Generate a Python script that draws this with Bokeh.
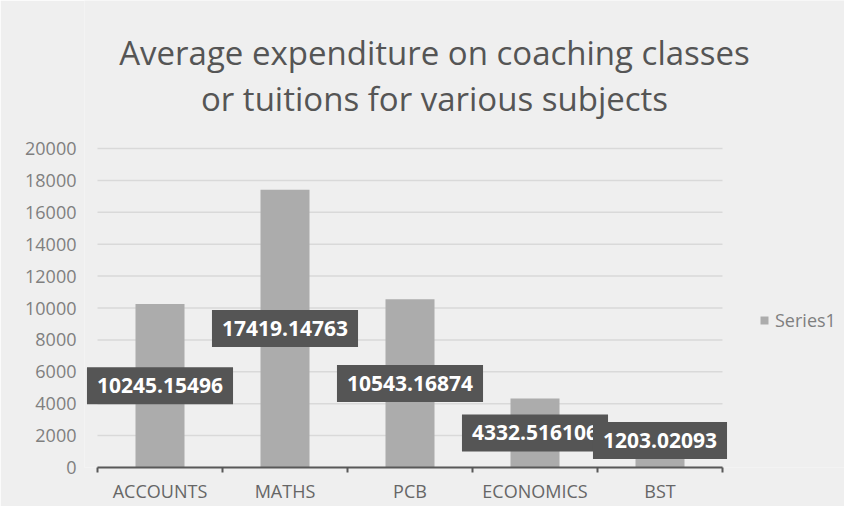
from bokeh.plotting import figure
from bokeh.models import (ColumnDataSource, FixedTicker, Label, Legend, LegendItem, Range1d)
from bokeh.core.properties import value
from bokeh.embed import file_html
from bokeh.resources import INLINE

categories = ["ACCOUNTS", "MATHS", "PCB", "ECONOMICS", "BST"]
values = [10245.15496, 17419.14763, 10543.16874, 4332.516106, 1203.02093]
y_ticks = [0, 2000, 4000, 6000, 8000, 10000, 12000, 14000, 16000, 18000, 20000]
series_name = "Series1"
title_lines = ["Average expenditure on coaching classes",
               "or tuitions for various subjects"]

FONT = "Open Sans"
# layout (pixels)
PLOT_LEFT = 97                     # left edge of the category area
LEFT, BOTTOM = 84, 39              # frame starts a bit left so labels are not clipped
CAT_W = 125                        # pixels per category
PLOT_H = 319                       # pixels for 0..20000
FRAME_W, FRAME_H = 760, 467        # frame extended to hold title and legend
n = len(categories)
y_max = y_ticks[-1]
x_start = -(PLOT_LEFT - LEFT) / CAT_W
x_end = x_start + FRAME_W / CAT_W
y_end = y_max * FRAME_H / PLOT_H

xs = [i + 0.5 for i in range(n)]
label_y = [max(v / 2, 1690) for v in values]
src = ColumnDataSource(dict(x=xs, top=values, cat=categories,
                            ly=label_y, txt=[str(v) for v in values]))
grid_src = ColumnDataSource(dict(x0=[0] * len(y_ticks), x1=[n] * len(y_ticks),
                                 y=y_ticks))

p = figure(frame_width=FRAME_W, frame_height=FRAME_H, output_backend="svg",
           toolbar_location=None,
           x_range=Range1d(x_start, x_end), y_range=Range1d(0, y_end),
           min_border_left=LEFT, min_border_right=0, min_border_top=0,
           min_border_bottom=BOTTOM)
p.title = None
p.background_fill_color = "#efefef"
p.border_fill_color = "#efefef"
p.outline_line_color = None
p.xgrid.grid_line_color = None
p.ygrid.grid_line_color = None

title_cx = 434 - LEFT
for line, sy in zip(title_lines, [415, 369]):
    p.add_layout(Label(x=title_cx, y=sy, x_units="screen", y_units="screen", text=line,
                       text_font=FONT, text_font_size="33px", text_color="#555555",
                       text_align="center", text_baseline="alphabetic"))

p.segment(x0="x0", x1="x1", y0="y", y1="y", source=grid_src,
          line_color="#d9d9d9", line_width=1.5)

bars = p.vbar(x="x", top="top", width=0.392, bottom=0, source=src,
              fill_color="#acacac", line_color=None)

p.text(x="x", y="ly", text="txt", source=src, text_color="white",
       text_font=value(FONT), text_font_style="bold", text_font_size="21px",
       text_align="center", text_baseline="middle",
       background_fill_color="#555555", padding=(10, 11))

p.yaxis.ticker = FixedTicker(ticks=y_ticks)
p.yaxis.axis_line_color = None
p.yaxis.major_tick_line_color = None
p.yaxis.minor_tick_line_color = None
p.yaxis.major_label_text_color = "#7f7f7f"
p.yaxis.major_label_text_font = FONT
p.yaxis.major_label_text_font_size = "18px"
p.yaxis.major_label_standoff = 2

p.xaxis.ticker = FixedTicker(ticks=xs, minor_ticks=list(range(n + 1)))
p.xaxis.bounds = (0, n)
p.xaxis.major_label_overrides = {x: c for x, c in zip(xs, categories)}
p.xaxis.axis_line_color = "#595959"
p.xaxis.axis_line_width = 2
p.xaxis.major_tick_line_color = None
p.xaxis.minor_tick_line_color = "#595959"
p.xaxis.minor_tick_line_width = 2
p.xaxis.minor_tick_out = 5
p.xaxis.minor_tick_in = 0
p.xaxis.major_label_text_color = "#666666"
p.xaxis.major_label_text_font = FONT
p.xaxis.major_label_text_font_size = "18px"
p.xaxis.major_label_standoff = 5

legend = Legend(items=[LegendItem(label=series_name, renderers=[bars])],
                location=(759 - LEFT, 135), background_fill_alpha=0,
                border_line_color=None,
                label_text_color="#7f7f7f", label_text_font=FONT,
                label_text_font_size="18px", glyph_width=10, glyph_height=10,
                label_height=20, label_standoff=6, padding=0, margin=0)
p.add_layout(legend, "center")

open("out.html", "w").write(file_html(p, INLINE))
